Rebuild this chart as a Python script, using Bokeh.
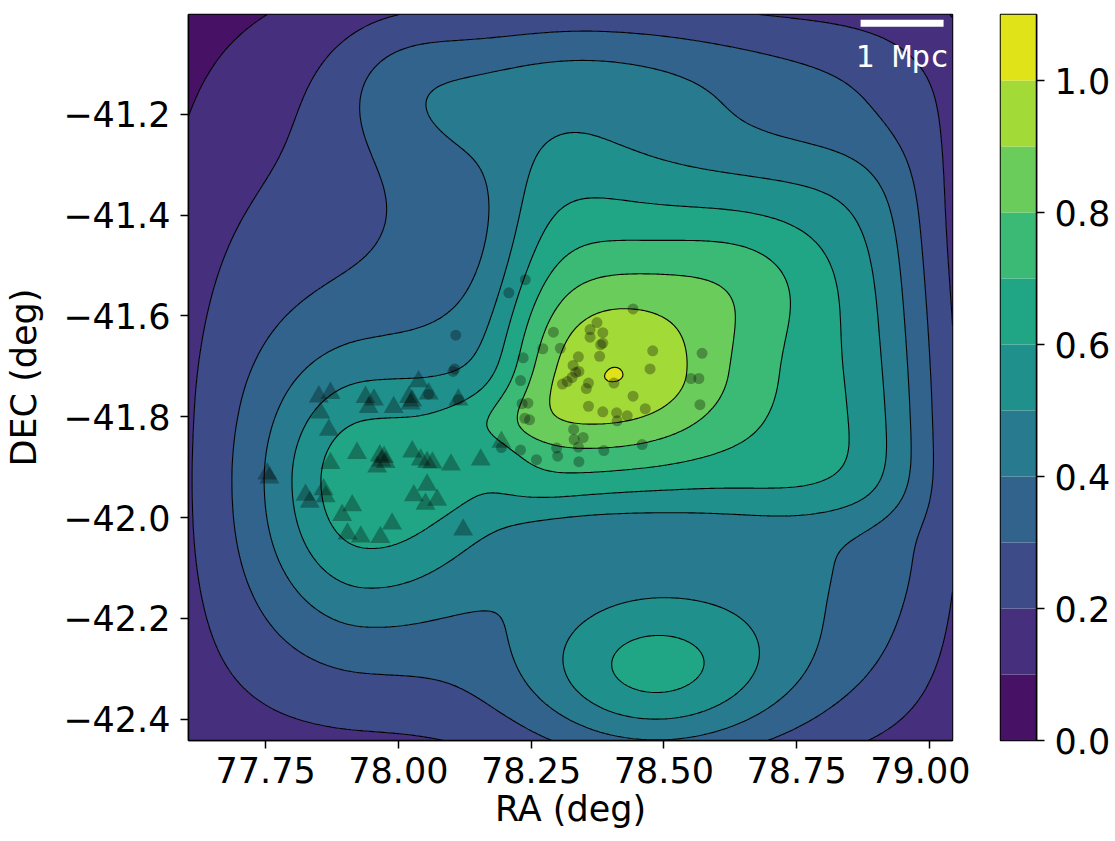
import numpy as np
from bokeh.plotting import figure
from bokeh.models import Range1d, FixedTicker, Label
from bokeh.layouts import row
from bokeh.embed import file_html
from bokeh.resources import INLINE
from bokeh.palettes import Viridis256

# ---------------- data ----------------
# cluster members (circles)
member_ra = [78.239, 78.208, 78.108, 78.106, 78.103, 78.292, 78.272, 78.305, 78.235, 78.230,
             78.233, 78.244, 78.238, 78.247, 78.194, 78.230, 78.260, 78.298, 78.300, 78.442,
             78.374, 78.361, 78.385, 78.361, 78.385, 78.381, 78.479, 78.339, 78.379, 78.329,
             78.334, 78.340, 78.327, 78.318, 78.309, 78.474, 78.572, 78.551, 78.566, 78.358,
             78.354, 78.406, 78.442, 78.358, 78.385, 78.411, 78.412, 78.431, 78.465, 78.568,
             78.330, 78.348, 78.331, 78.339, 78.387, 78.459, 78.340, 78.057, 78.113]
member_dec = [-41.528, -41.554, -41.638, -41.705, -41.710, -41.632, -41.665, -41.664, -41.683, -41.728,
              -41.774, -41.773, -41.803, -41.806, -41.861, -41.866, -41.885, -41.862, -41.878, -41.586,
              -41.613, -41.627, -41.633, -41.642, -41.654, -41.657, -41.669, -41.681, -41.680, -41.698,
              -41.712, -41.710, -41.722, -41.730, -41.735, -41.705, -41.674, -41.724, -41.724, -41.733,
              -41.744, -41.733, -41.759, -41.779, -41.790, -41.792, -41.808, -41.798, -41.784, -41.776,
              -41.825, -41.841, -41.845, -41.860, -41.867, -41.855, -41.889, -41.755, -41.766]

# infalling group members (triangles)
group_ra = [77.850, 77.872, 77.853, 77.869, 77.938, 77.954, 77.944, 77.922, 77.872, 77.753,
            77.757, 77.825, 77.833, 77.859, 77.863, 77.913, 77.894, 77.904, 77.929, 78.038,
            78.057, 77.991, 78.020, 78.026, 78.023, 78.113, 77.965, 77.973, 77.968, 77.976,
            77.960, 78.026, 78.042, 78.064, 78.054, 78.099, 78.155, 78.054, 78.029, 78.073,
            78.051, 77.988, 77.966, 78.122, 78.194]
group_dec = [-41.760, -41.753, -41.792, -41.826, -41.761, -41.766, -41.781, -41.872, -41.892, -41.913,
             -41.921, -41.955, -41.969, -41.944, -41.958, -41.976, -41.995, -42.032, -42.038, -41.730,
             -41.754, -41.781, -41.761, -41.768, -41.774, -41.766, -41.877, -41.880, -41.887, -41.890,
             -41.899, -41.869, -41.885, -41.891, -41.890, -41.895, -41.885, -41.935, -41.956, -41.965,
             -41.973, -42.012, -42.039, -42.024, -41.850]

# galaxy density map: kernel components
# plateau, halo, core, west arm, south group, north, south belt, south-east,
# arm bridge, north-west, NW ridge, north-east lobe, south-west lobe, far north-east
kernel_weight = [0.30, 0.30, 0.396, 0.37, 0.39, 0.28, 0.05, 0.08, 0.10, 0.08, 0.10, 0.12, 0.12, 0.06]
kernel_ra = [78.40, 78.55, 78.405, 77.935, 78.48, 78.40, 78.45, 78.78, 78.17, 78.00, 78.15, 78.65, 78.19, 78.90]
kernel_dec = [-41.78, -41.70, -41.715, -41.925, -42.31, -41.15, -42.05, -42.10, -41.93, -41.12, -41.30, -41.52, -41.81, -41.17]
kernel_w_lo_ra = [0.79, 0.30, 0.17, 0.13, 0.18, 0.27, 0.30, 0.14, 0.10, 0.10, 0.18, 0.12, 0.09, 0.16]
kernel_w_hi_ra = [0.64, 0.38, 0.17, 0.17, 0.18, 0.32, 0.30, 0.18, 0.10, 0.10, 0.18, 0.12, 0.09, 0.16]
kernel_w_lo_dec = [0.643, 0.26, 0.12, 0.20, 0.125, 0.12, 0.08, 0.22, 0.07, 0.10, 0.18, 0.10, 0.04, 0.15]
kernel_w_hi_dec = [0.52, 0.38, 0.17, 0.17, 0.125, 0.12, 0.08, 0.22, 0.07, 0.10, 0.18, 0.10, 0.05, 0.15]
kernel_p_ra = [8, 6, 2, 2, 2, 2, 2, 2, 2, 2, 2, 2, 2, 2]
kernel_p_lo_dec = [4, 6, 2, 2, 2, 2, 2, 2, 2, 2, 2, 2, 2, 2]
kernel_p_hi_dec = [2, 6, 2, 2, 2, 2, 2, 2, 2, 2, 2, 2, 2, 2]

density_levels = [0.0, 0.1, 0.2, 0.3, 0.4, 0.5, 0.6, 0.7, 0.8, 0.9, 1.0, 1.1]

ra_ticks = [77.75, 78.0, 78.25, 78.5, 78.75, 79.0]
ra_tick_labels = ["77.75", "78.00", "78.25", "78.50", "78.75", "79.00"]
dec_ticks = [-42.4, -42.2, -42.0, -41.8, -41.6, -41.4, -41.2]
dec_tick_labels = ["\u221242.4", "\u221242.2", "\u221242.0", "\u221241.8", "\u221241.6", "\u221241.4", "\u221241.2"]
cbar_ticks = [0.0, 0.2, 0.4, 0.6, 0.8, 1.0]
cbar_tick_labels = ["0.0", "0.2", "0.4", "0.6", "0.8", "1.0"]

ra_limits = (77.6046, 79.0437)
dec_limits = (-42.442, -41.002)

# ---------------- density grid ----------------
ra_axis = np.linspace(ra_limits[0], ra_limits[1], 320)
dec_axis = np.linspace(dec_limits[0], dec_limits[1], 320)
RA, DEC = np.meshgrid(ra_axis, dec_axis)
density = np.zeros_like(RA)
for w, x0, y0, wlx, whx, wly, why, px, ply, phy in zip(
        kernel_weight, kernel_ra, kernel_dec, kernel_w_lo_ra, kernel_w_hi_ra,
        kernel_w_lo_dec, kernel_w_hi_dec, kernel_p_ra, kernel_p_lo_dec, kernel_p_hi_dec):
    dx = RA - x0
    dy = DEC - y0
    gx = np.exp(-0.5 * np.abs(dx / np.where(dx < 0, wlx, whx)) ** px)
    gy = np.where(dy < 0,
                  np.exp(-0.5 * np.abs(dy / wly) ** ply),
                  np.exp(-0.5 * np.abs(dy / why) ** phy))
    density += w * gx * gy
density = np.clip(density, 0.001, 1.099)

nb = len(density_levels) - 1
band_colors = [Viridis256[int(round((k + 0.5) / nb * 255))] for k in range(nb)]

FONT = "DejaVu Sans"
FS = "35px"

# ---------------- main figure ----------------
p = figure(width=970, height=841, output_backend="svg", toolbar_location=None,
           x_range=Range1d(*ra_limits), y_range=Range1d(*dec_limits),
           min_border_left=188, min_border_right=18, min_border_top=14, min_border_bottom=101)
p.contour(x=ra_axis, y=dec_axis, z=density, levels=density_levels,
          fill_color=band_colors, line_color="black", line_width=1.1)

p.scatter(member_ra, member_dec, marker="circle", size=11,
          fill_color="black", fill_alpha=0.3, line_color=None)
p.scatter(group_ra, group_dec, marker="triangle", size=20,
          fill_color="black", fill_alpha=0.3, line_color=None)

# 1 Mpc scale bar
p.segment(x0=[78.8706], y0=[-41.0195], x1=[79.0269], y1=[-41.0195],
          line_color="white", line_width=7, line_cap="butt")
p.add_layout(Label(x=78.9488, y=-41.0836, text="1 Mpc", text_align="center",
                   text_baseline="alphabetic", text_font="DejaVu Sans Mono",
                   text_font_size="31px", text_color="white"))

p.xgrid.visible = False
p.ygrid.visible = False
p.outline_line_color = "black"
p.outline_line_width = 1.5
p.outline_line_alpha = 1.0

p.xaxis.ticker = FixedTicker(ticks=ra_ticks)
p.xaxis.major_label_overrides = dict(zip(ra_ticks, ra_tick_labels))
p.yaxis.ticker = FixedTicker(ticks=dec_ticks)
p.yaxis.major_label_overrides = dict(zip(dec_ticks, dec_tick_labels))
p.xaxis.axis_label = "RA (deg)"
p.yaxis.axis_label = "DEC (deg)"
for ax in (p.xaxis[0], p.yaxis[0]):
    ax.axis_label_text_font = FONT
    ax.axis_label_text_font_size = FS
    ax.axis_label_text_font_style = "normal"
    ax.axis_label_text_color = "black"
    ax.major_label_text_font = FONT
    ax.major_label_text_font_size = FS
    ax.major_label_text_color = "black"
    ax.major_tick_out = 8
    ax.major_tick_in = 0
    ax.major_tick_line_width = 1.5
    ax.minor_tick_line_color = None
    ax.axis_line_width = 1.5
p.xaxis.major_label_standoff = 8
p.xaxis.axis_label_standoff = 3
p.yaxis.major_label_standoff = 10
p.yaxis.axis_label_standoff = 16

# ---------------- colour bar ----------------
cb = figure(width=145, height=841, output_backend="svg", toolbar_location=None,
            x_range=Range1d(0, 1), y_range=Range1d(density_levels[0], density_levels[-1]),
            x_axis_location=None, y_axis_location="right",
            min_border_left=30, min_border_right=79, min_border_top=14, min_border_bottom=101)
cb.quad(left=0, right=1, bottom=density_levels[:-1], top=density_levels[1:],
        fill_color=band_colors, line_color=None)
cb.xgrid.visible = False
cb.ygrid.visible = False
cb.outline_line_color = "black"
cb.outline_line_width = 1.5
cb.outline_line_alpha = 1.0
cax = cb.yaxis[0]
cax.ticker = FixedTicker(ticks=cbar_ticks)
cax.major_label_overrides = dict(zip(cbar_ticks, cbar_tick_labels))
cax.major_label_text_font = FONT
cax.major_label_text_font_size = FS
cax.major_label_text_color = "black"
cax.major_tick_out = 8
cax.major_tick_in = 0
cax.major_tick_line_width = 1.5
cax.minor_tick_line_color = None
cax.axis_line_width = 1.5
cax.major_label_standoff = 10

layout = row(p, cb)
open("out.html", "w").write(file_html(layout, INLINE))
